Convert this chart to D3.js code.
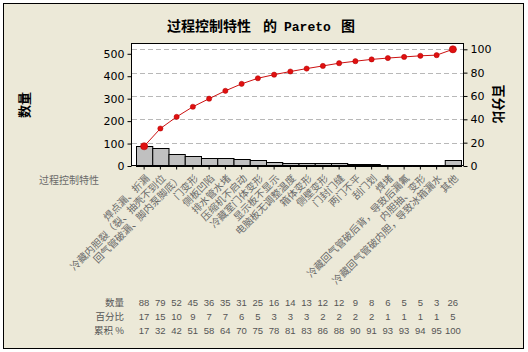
<!DOCTYPE html>
<html>
<head>
<meta charset="UTF-8">
<title>Pareto</title>
<script src="https://cdn.jsdelivr.net/npm/d3@7"></script>
<style>
body { margin: 0; background: #fff; }
.cjk { font-family: "Noto Sans CJK SC", sans-serif; }
.num { font-family: "DejaVu Sans", sans-serif; }
.mono { font-family: "Liberation Mono", "DejaVu Sans Mono", monospace; }
</style>
</head>
<body>
<div id="vis"></div>
<script>
// data
var categories = ["焊点漏、折漏", "冷藏内胆裂（裂、抽壳不到位", "回气管破漏、脚内泵脚底）", "门变形", "侧板凹陷",
  "排水管水堵", "压缩机不启动", "冷藏室门体变形", "显示板不显示", "电脑板无调整温度", "箱体变形", "侧壁变形",
  "门封门缝", "两门不平", "刮门划", "焊堵", "冷藏回气管破后背，导致后漏氟", "内胆抽、变形",
  "冷藏回气管破内胆，导致冰箱漏水", "其他"];
var counts = [88, 79, 52, 45, 36, 35, 31, 25, 16, 14, 13, 12, 12, 9, 8, 6, 5, 5, 3, 26];
var percents = [17, 15, 10, 9, 7, 7, 6, 5, 3, 3, 3, 2, 2, 2, 2, 1, 1, 1, 1, 5];
var cumPercents = [17, 32, 42, 51, 58, 64, 70, 75, 78, 81, 83, 86, 88, 90, 91, 93, 93, 94, 95, 100];
var leftTicks = [0, 100, 200, 300, 400, 500];
var rightTicks = [0, 20, 40, 60, 80, 100];
var rowLabels = ["数量", "百分比", "累积 %"];

var W = 528, H = 352;
var plot = {left: 131, right: 464, top: 43, bottom: 166};
var total = d3.sum(counts);
var cum = d3.cumsum(counts);

var svg = d3.select("#vis").append("svg")
  .attr("width", W)
  .attr("height", H);

// background + frame
svg.append("rect")
  .attr("x", 3.5).attr("y", 3.5)
  .attr("width", 520).attr("height", 345)
  .attr("fill", "#ECE9D8")
  .attr("stroke", "#000");

svg.append("rect")
  .attr("x", plot.left).attr("y", plot.top)
  .attr("width", plot.right - plot.left).attr("height", plot.bottom - plot.top)
  .attr("fill", "#fff");

var x = d3.scaleBand()
  .domain(d3.range(categories.length))
  .range([136, 461])
  .padding(0);

var topPct = (plot.bottom - plot.top) / (plot.bottom - 49.3) * 100;
var yR = d3.scaleLinear().domain([0, topPct]).range([plot.bottom, plot.top]);
var yL = d3.scaleLinear().domain([0, topPct / 100 * total]).range([plot.bottom, plot.top]);

// dashed gridlines at the percent ticks
svg.append("g").selectAll("line")
  .data(rightTicks.filter(function(d) { return d > 0; }))
  .enter().append("line")
  .attr("x1", plot.left + 1).attr("x2", plot.right - 1)
  .attr("y1", function(d) { return Math.round(yR(d)) + 0.5; })
  .attr("y2", function(d) { return Math.round(yR(d)) + 0.5; })
  .attr("stroke", "#b8b8b8")
  .attr("stroke-dasharray", "5,3");

// bars
svg.append("g").selectAll("rect")
  .data(counts)
  .enter().append("rect")
  .attr("x", function(d, i) { return x(i) + 0.5; })
  .attr("y", function(d) { return Math.round(yL(d)) + 0.5; })
  .attr("width", x.bandwidth())
  .attr("height", function(d) { return plot.bottom - Math.round(yL(d)); })
  .attr("fill", "#C0C0C0")
  .attr("stroke", "#000")
  .attr("stroke-width", 1);

// cumulative line
var line = d3.line()
  .x(function(d, i) { return x(i) + x.bandwidth() / 2; })
  .y(function(d) { return yL(d); });

svg.append("path")
  .datum(cum)
  .attr("d", line)
  .attr("fill", "none")
  .attr("stroke", "#cc1111")
  .attr("stroke-width", 1);

svg.append("g").selectAll("circle")
  .data(cum)
  .enter().append("circle")
  .attr("cx", function(d, i) { return x(i) + x.bandwidth() / 2; })
  .attr("cy", function(d) { return yL(d); })
  .attr("r", function(d, i) { return (i == 0 || i == cum.length - 1) ? 3.6 : 2.6; })
  .attr("fill", "#e01010")
  .attr("stroke", "#b00000")
  .attr("stroke-width", 0.5);

// plot frame
svg.append("rect")
  .attr("x", plot.left + 0.5).attr("y", plot.top + 0.5)
  .attr("width", plot.right - plot.left - 1).attr("height", plot.bottom - plot.top - 1)
  .attr("fill", "none")
  .attr("stroke", "#000");

// axes
var leftAxis = d3.axisLeft(yL).tickValues(leftTicks).tickSize(4).tickPadding(3);
var gL = svg.append("g").attr("transform", "translate(" + (plot.left + 0.5) + ",0)").call(leftAxis);
var rightAxis = d3.axisRight(yR).tickValues(rightTicks).tickSize(4).tickPadding(3);
var gR = svg.append("g").attr("transform", "translate(" + (plot.right - 0.5) + ",0)").call(rightAxis);
[gL, gR].forEach(function(g) {
  g.select(".domain").remove();
  g.selectAll("line").attr("stroke", "#000");
  g.selectAll("text").attr("class", "num").attr("font-size", 11).attr("fill", "#000");
});

var bottomAxis = d3.axisBottom(x).tickSize(4).tickFormat("");
var gB = svg.append("g").attr("transform", "translate(0," + (plot.bottom - 0.5) + ")").call(bottomAxis);
gB.select(".domain").remove();
gB.selectAll("line").attr("stroke", "#000");

// category labels, rotated
svg.append("g").selectAll("text")
  .data(categories)
  .enter().append("text")
  .attr("class", "cjk")
  .attr("font-size", 10)
  .attr("fill", "#6a6a6a")
  .attr("text-anchor", "end")
  .attr("transform", function(d, i) {
    return "translate(" + (x(i) + x.bandwidth() / 2 + 6) + "," + (plot.bottom + 13) + ") rotate(-45)";
  })
  .text(function(d) { return d; });

svg.append("text")
  .attr("class", "cjk")
  .attr("font-size", 10)
  .attr("fill", "#6a6a6a")
  .attr("x", 39).attr("y", 184)
  .text("过程控制特性");

// title
var title = svg.append("text")
  .attr("y", 31)
  .attr("font-weight", "bold")
  .attr("font-size", 14);
title.append("tspan").attr("class", "cjk").attr("x", 167).text("过程控制特性");
title.append("tspan").attr("class", "cjk").attr("x", 263).text("的");
title.append("tspan").attr("class", "mono").attr("x", 284).attr("font-size", 13).text("Pareto");
title.append("tspan").attr("class", "cjk").attr("x", 341).text("图");

// axis titles
svg.append("text")
  .attr("class", "cjk")
  .attr("font-weight", "bold").attr("font-size", 13)
  .attr("text-anchor", "middle")
  .attr("transform", "translate(29,105) rotate(-90)")
  .text("数量");

svg.append("text")
  .attr("class", "cjk")
  .attr("font-weight", "bold").attr("font-size", 13)
  .attr("text-anchor", "middle")
  .attr("transform", "translate(494,104) rotate(90)")
  .text("百分比");

// table below
var rows = [counts, percents, cumPercents];
var rowY = [306, 320, 334];
rows.forEach(function(vals, r) {
  svg.append("text")
    .attr("class", "cjk")
    .attr("font-size", 9.5)
    .attr("fill", "#555")
    .attr("text-anchor", "end")
    .attr("x", 124).attr("y", rowY[r])
    .text(rowLabels[r]);
  svg.append("g").selectAll("text")
    .data(vals)
    .enter().append("text")
    .attr("font-family", "Liberation Sans, sans-serif")
    .attr("font-size", 9.5)
    .attr("fill", "#555")
    .attr("text-anchor", "middle")
    .attr("x", function(d, i) { return x(i) + x.bandwidth() / 2; })
    .attr("y", rowY[r])
    .text(function(d) { return d; });
});
</script>
</body>
</html>
